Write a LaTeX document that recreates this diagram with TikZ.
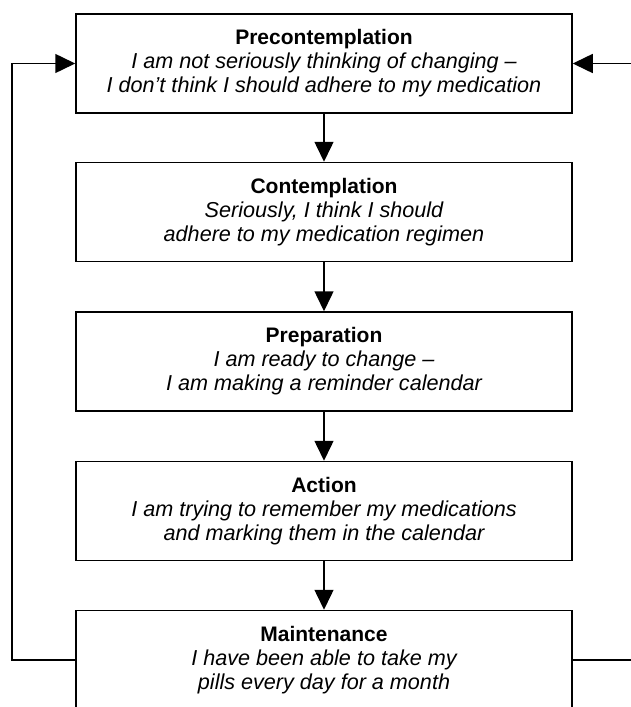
\documentclass[tikz,border=0pt]{standalone}
\usepackage{fontspec}
\setmainfont{Liberation Sans}
\usetikzlibrary{arrows.meta}
\newcommand{\ttl}[1]{{\fontsize{21}{24}\selectfont\bfseries #1}}
\newcommand{\itl}[1]{{\fontsize{21.6}{24}\selectfont\itshape #1}}
\tikzset{
  stage/.style={draw=black, line width=1.5pt, minimum width=496pt, minimum height=99pt,
    inner sep=0pt, align=center, font=\fontsize{21.6}{24}\selectfont},
  conn/.style={draw=black, line width=1.5pt, -{Triangle[length=20pt,width=19pt]}},
  plain/.style={draw=black, line width=1.5pt}
}
\begin{document}
\begin{tikzpicture}[x=1pt,y=-1pt]
\useasboundingbox (0,0) rectangle (631,707);
\node[stage] (pre) at (324,63.5) {\ttl{Precontemplation}\\\itl{I am not seriously thinking of changing –}\\\itl{I don’t think I should adhere to my medication}};
\node[stage] (con) at (324,212) {\ttl{Contemplation}\\\itl{Seriously, I think I should}\\\itl{adhere to my medication regimen}};
\node[stage] (prep) at (324,361.5) {\ttl{Preparation}\\\itl{I am ready to change –}\\\itl{I am making a reminder calendar}};
\node[stage] (act) at (324,511) {\ttl{Action}\\\itl{I am trying to remember my medications}\\\itl{and marking them in the calendar}};
\node[stage] (mai) at (324,660) {\ttl{Maintenance}\\\itl{I have been able to take my}\\\itl{pills every day for a month}};
\coordinate (lft) at (12,0);
\coordinate (rgt) at (645,0);
\draw[conn] (pre) -- (con);
\draw[conn] (con) -- (prep);
\draw[conn] (prep) -- (act);
\draw[conn] (act) -- (mai);
\draw[conn] (mai.west) -- (mai.west -| lft) |- (pre.west);
\draw[conn] (mai.east) -- (mai.east -| rgt) |- (pre.east);
\end{tikzpicture}
\end{document}
